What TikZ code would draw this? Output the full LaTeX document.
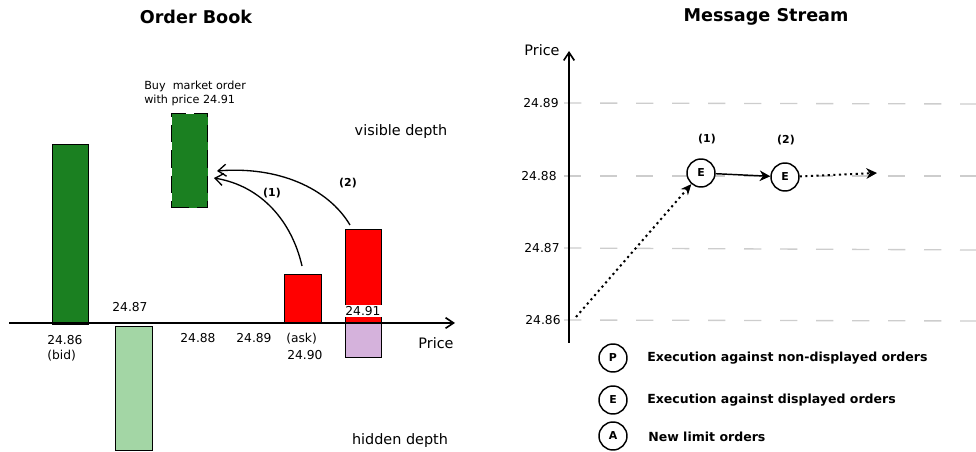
\documentclass[tikz,border=0pt]{standalone}
\usepackage{fontspec}
\setmainfont{DejaVu Sans}
\usetikzlibrary{arrows.meta}
\definecolor{dgreen}{RGB}{27,128,33}
\definecolor{lgreen}{RGB}{163,214,165}
\definecolor{lpurple}{RGB}{213,178,220}
\definecolor{gridgray}{RGB}{205,205,205}
\begin{document}
\begin{tikzpicture}[x=0.75pt,y=-0.75pt,
  bar/.style={draw=black,line width=1pt,inner sep=0pt,anchor=north west},
  lbl/.style={font=\fontsize{9.2}{11}\selectfont,inner sep=0pt},
  big/.style={font=\fontsize{10.8}{13}\selectfont,inner sep=0pt},
  ttl/.style={font=\bfseries\fontsize{13.2}{16}\selectfont,inner sep=0pt},
  num/.style={font=\bfseries\fontsize{8.2}{10}\selectfont,inner sep=0pt},
  circ/.style={circle,draw=black,fill=white,line width=1.1pt,minimum size=21pt,inner sep=0pt,font=\bfseries\fontsize{8.2}{10}\selectfont},
  leg/.style={font=\bfseries\fontsize{9.4}{11}\selectfont,inner sep=0pt,anchor=west},
  grid line/.style={gridgray,line width=1pt,dash pattern=on 13pt off 14pt},
  dotline/.style={line width=1.5pt,dash pattern=on 1.6pt off 2.6pt},
  openarrow/.style={line width=1pt,-{Straight Barb[length=6pt,width=9pt]}},
  buytext/.style={font=\fontsize{8.4}{10}\selectfont,inner sep=0pt,anchor=west}
]
\useasboundingbox (0,0) rectangle (976,452);

% ---------------- Order Book ----------------
\node[ttl] (t1) at (196,17) {Order Book};

\node[bar,fill=dgreen,minimum width=27pt,minimum height=135pt] (bid) at (52,144) {};
\node[bar,fill=dgreen,dash pattern=on 13pt off 6pt,minimum width=27pt,minimum height=70.5pt] (buy) at (171,113) {};
\node[bar,fill=lgreen,minimum width=27.75pt,minimum height=93pt] (hid) at (115,326) {};
\node[bar,fill=red,minimum width=27.75pt,minimum height=36.75pt] (ask) at (284,274) {};
\node[bar,fill=red,minimum width=27pt,minimum height=70.5pt] (r2) at (345,229) {};
\node[bar,fill=lpurple,minimum width=27pt,minimum height=25.5pt] (pur) at (345,323) {};

\node[lbl,fill=white,inner sep=1pt,minimum width=26pt] (p91) at (363,311) {24.91};

\coordinate (axL) at (9,323);
\coordinate (axR) at (455,323);
\draw[line width=1.2pt,-{Straight Barb[length=6pt,width=8pt]}] (axL) -- (axR);

\node[buytext] (buyA) at (144,86) {Buy\ \ market order};
\node[buytext] (buyB) at (144,100) {with price 24.91};

\node[lbl,anchor=west] (l86) at (47,340) {24.86};
\node[lbl,anchor=west] (lbid) at (47,356) {(bid)};
\node[lbl] (l87) at (130,307) {24.87};
\node[lbl] (l88) at (198,338) {24.88};
\node[lbl] (l89) at (254,338) {24.89};
\node[lbl,anchor=west] (lask) at (286,339) {(ask)};
\node[lbl,anchor=west] (l90) at (287,355) {24.90};
\node[big] (lprice) at (436,343) {Price};
\node[big] (vis) at (401,132) {visible depth};
\node[big] (hidd) at (400,441) {hidden depth};
\node[num] (n1) at (272,193) {(1)};
\node[num] (n2) at (348,183) {(2)};

\coordinate (c1s) at (302,266);
\coordinate (c1e) at (214,178);
\coordinate (c2s) at (350,225);
\coordinate (c2e) at (217,171);
\draw[openarrow] (c1s) .. controls (292,222) and (262,186) .. (c1e);
\draw[openarrow] (c2s) .. controls (328,188) and (278,166) .. (c2e);

% ---------------- Message Stream ----------------
\node[ttl] (t2) at (766,17) {Message Stream};

\coordinate (g89a) at (564,103); \coordinate (g89b) at (976,104);
\coordinate (g88a) at (564,176); \coordinate (g88b) at (976,176);
\coordinate (g87a) at (564,248); \coordinate (g87b) at (976,250);
\coordinate (g86a) at (564,320); \coordinate (g86b) at (976,321);
\draw[grid line] (g89a) -- (g89b);
\draw[grid line] (g88a) -- (g88b);
\draw[grid line] (g87a) -- (g87b);
\draw[grid line] (g86a) -- (g86b);

\node[lbl] (y89) at (541,103) {24.89};
\node[lbl] (y88) at (539,176) {24.88};
\node[lbl] (y87) at (542,248) {24.87};
\node[lbl] (y86) at (543,320) {24.86};

\coordinate (vb) at (569,343);
\coordinate (vt) at (569,51);
\draw[line width=1.2pt,-{Straight Barb[length=6pt,width=8pt]}] (vb) -- (vt);
\node[big] (rprice) at (542,50) {Price};

\node[circ] (e1) at (701,173) {E};
\node[circ] (e2) at (785,177) {E};
\node[num] (m1) at (707,139) {(1)};
\node[num] (m2) at (786,140) {(2)};

\coordinate (ds) at (576,317);
\coordinate (de) at (877,173);
\draw[dotline,-{Stealth[length=8pt,width=7pt]}] (ds) -- (e1);
\draw[line width=1.1pt,-{Stealth[length=8pt,width=8pt]}] (e1) -- (e2);
\draw[dotline,-{Stealth[length=8pt,width=8pt]}] (e2) -- (de);

\node[circ] (lp) at (613,358) {P};
\node[circ] (le) at (613,400) {E};
\node[circ] (la) at (613,436) {A};
\node[leg] (tp) at (647,358) {Execution against non-displayed orders};
\node[leg] (te) at (647,400) {Execution against displayed orders};
\node[leg] (ta) at (648,437) {New limit orders};
\end{tikzpicture}
\end{document}
